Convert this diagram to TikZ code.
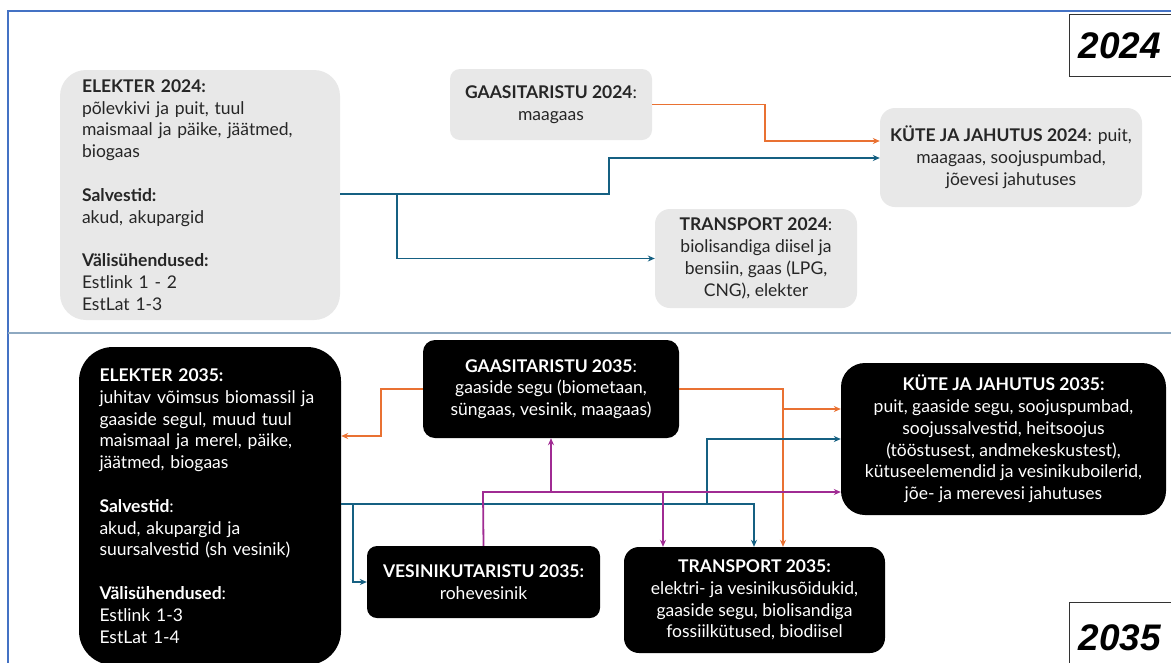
\documentclass[tikz,border=0pt]{standalone}
\usepackage{fontspec}
\setmainfont{Lato}
\newfontfamily\yearfont{Liberation Sans}
\usepackage{xcolor}
\usetikzlibrary{positioning,arrows.meta,calc}

\definecolor{boxGrey}{HTML}{E8E8E8}
\definecolor{textGrey}{HTML}{262626}
\definecolor{flowBlue}{HTML}{156082}
\definecolor{flowOrange}{HTML}{E97132}
\definecolor{flowPurple}{HTML}{A02B93}
\definecolor{frameBlue}{HTML}{4472C4}
\definecolor{splitLine}{HTML}{8EA9C1}

\begin{document}
\begin{tikzpicture}[
  x=1pt, y=-1pt,
  boxText/.style={font=\fontsize{17.5}{21.8}\selectfont, inner sep=0pt},
  oldBox/.style={boxText, fill=boxGrey, text=textGrey, rounded corners=#1},
  newBox/.style={boxText, fill=black, text=white, rounded corners=#1},
  yearBox/.style={draw=black!80, line width=1pt, fill=white, anchor=north west,
                  font=\yearfont\fontsize{37}{37}\selectfont\bfseries\itshape},
  flow/.style={line width=1.8pt, -{Stealth[length=7pt,width=6pt]}},
  blueFlow/.style={flow, draw=flowBlue},
  orangeFlow/.style={flow, draw=flowOrange},
  purpleFlow/.style={flow, draw=flowPurple}
]
  \useasboundingbox (0,0) rectangle (1171,662);
  \fill[white] (0,0) rectangle (1171,662);
  \draw[frameBlue, line width=1.2pt] (8,680) -- (8,11) -- (1190,11);
  \draw[splitLine, line width=1.2pt] (8,333) -- (1171,333);

  % 2024
  \node[oldBox=26pt, minimum width=280pt, minimum height=250pt, text width=236pt,
        align=left] (el24) at (200,195)
    {\textbf{ELEKTER 2024:}\\ põlevkivi ja puit, tuul\\ maismaal ja päike, jäätmed,\\
     biogaas\\[21.8pt] \textbf{Salvestid:}\\ akud, akupargid\\[21.8pt]
     \textbf{Välisühendused:}\\ Estlink 1 - 2\\ EstLat 1-3};
  \node[oldBox=10pt, minimum width=202pt, minimum height=71pt, align=center]
    (gas24) at (551,104.5) {\textbf{GAASITARISTU 2024}:\\ maagaas};
  \node[oldBox=15pt, minimum width=262pt, minimum height=99pt, align=center]
    (heat24) at (1011,157.5)
    {\textbf{KÜTE JA JAHUTUS 2024}: puit,\\ maagaas, soojuspumbad,\\ jõevesi jahutuses};
  \node[oldBox=15pt, minimum width=202pt, minimum height=99pt, align=center]
    (tr24) at (756,258.5)
    {\textbf{TRANSPORT 2024}:\\ biolisandiga diisel ja\\ bensiin, gaas (LPG,\\ CNG), elekter};
  \node[yearBox, minimum width=130pt, minimum height=62pt, text width=112pt]
    (y24) at (1069,14) {2024};

  \coordinate (o1) at (765,141);
  \coordinate (b1) at (397,194);
  \coordinate (b2) at (609,158);
  \draw[orangeFlow] (gas24.east) -| (o1) -- (o1 -| heat24.west);
  \draw[blueFlow] (el24.east |- b1) -- (b1) |- (tr24.west);
  \draw[blueFlow] (b1) -| (b2) -- (b2 -| heat24.west);

  % 2035
  \node[newBox=34pt, minimum width=262pt, minimum height=318pt, text width=221pt,
        align=left] (el35) at (210,506)
    {\textbf{ELEKTER 2035:}\\ juhitav võimsus biomassil ja\\ gaaside segul, muud tuul\\
     maismaal ja merel, päike,\\ jäätmed, biogaas\\[21.8pt] \textbf{Salvestid}:\\
     akud, akupargid ja\\ suursalvestid (sh vesinik)\\[21.8pt]
     \textbf{Välisühendused}:\\ Estlink 1-3\\ EstLat 1-4};
  \node[newBox=12pt, minimum width=256pt, minimum height=98pt, align=center]
    (gas35) at (551,389)
    {\textbf{GAASITARISTU 2035}:\\ gaaside segu (biometaan,\\ süngaas, vesinik, maagaas)};
  \node[newBox=24pt, minimum width=325pt, minimum height=152pt, align=center]
    (heat35) at (1003.5,439)
    {\textbf{KÜTE JA JAHUTUS 2035:}\\ puit, gaaside segu, soojuspumbad,\\
     soojussalvestid, heitsoojus\\ (tööstusest, andmekeskustest),\\
     kütuseelemendid ja vesinikuboilerid,\\ jõe- ja merevesi jahutuses};
  \node[newBox=10pt, minimum width=233pt, minimum height=72pt, align=center]
    (h235) at (483.5,582) {\textbf{VESINIKUTARISTU 2035:}\\ rohevesinik};
  \node[newBox=15pt, minimum width=261pt, minimum height=106pt, align=center]
    (tr35) at (754.5,600)
    {\textbf{TRANSPORT 2035:}\\ elektri- ja vesinikusõidukid,\\ gaaside segu, biolisandiga\\
     fossiilkütused, biodiisel};
  \node[yearBox, minimum width=130pt, minimum height=70pt, text width=112pt]
    (y35) at (1069,602) {2035};

  \coordinate (o2) at (381,436);
  \coordinate (o3) at (783,409);
  \coordinate (c1) at (353,504);
  \coordinate (c2) at (707,504);
  \coordinate (c3) at (754,504);
  \coordinate (p1) at (483,492);
  \coordinate (p2) at (551,492);
  \coordinate (p3) at (663,492);
  \draw[orangeFlow] (gas35.west) -| (o2) -- (o2 -| el35.east);
  \draw[orangeFlow] (gas35.east) -| (o3 |- tr35.north);
  \draw[orangeFlow] (o3) -- (o3 -| heat35.west);
  \draw[blueFlow] (el35.east |- c1) -- (c3) -- (c3 |- tr35.north);
  \draw[blueFlow] (c1) |- (h235.west);
  \draw[blueFlow] (c2) |- (heat35.west);
  \draw[purpleFlow] (h235.north) -- (p1) -- (p1 -| heat35.west);
  \draw[purpleFlow] (p2) -- (gas35.south);
  \draw[purpleFlow] (p3) -- (p3 |- tr35.north);
\end{tikzpicture}
\end{document}
